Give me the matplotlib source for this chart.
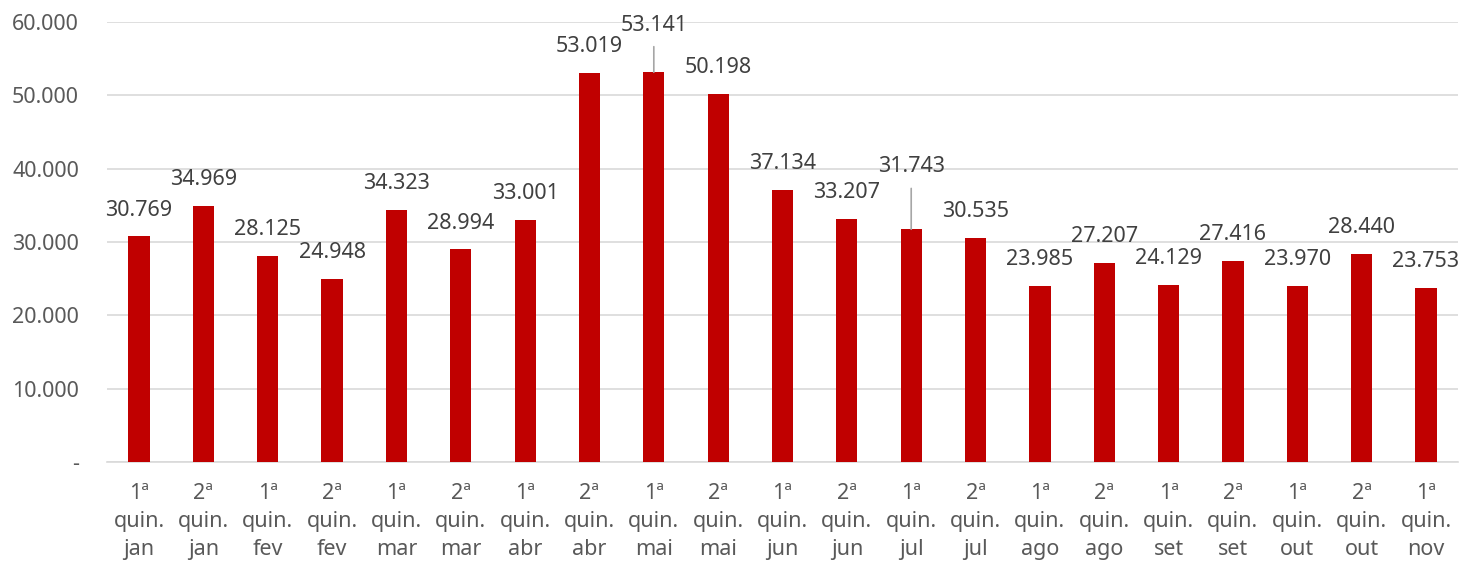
import matplotlib.pyplot as plt
from matplotlib.ticker import FuncFormatter

plt.rcParams['font.family'] = ['Noto Sans', 'DejaVu Sans']

quinzenas = ["1ª", "2ª"] * 11
meses = ["jan", "jan", "fev", "fev", "mar", "mar", "abr", "abr", "mai", "mai",
         "jun", "jun", "jul", "jul", "ago", "ago", "set", "set", "out", "out", "nov"]
categorias = [f"{q}\nquin.\n{m}" for q, m in zip(quinzenas, meses)]
valores = [30769, 34969, 28125, 24948, 34323, 28994, 33001, 53019, 53141, 50198,
           37134, 33207, 31743, 30535, 23985, 27207, 24129, 27416, 23970, 28440, 23753]
# labels moved up with a leader line
destacados = {8: 34, 12: 45}

cinza = '#595959'
fig = plt.figure(figsize=(14.64, 5.63), dpi=100)
ax = fig.add_subplot()
fig.subplots_adjust(left=0.073, right=0.996, top=0.961, bottom=0.179)

x = range(len(valores))
ax.bar(x, valores, width=0.33, color='#C00000', zorder=3)

fmt = lambda v: f"{int(v):,}".replace(",", ".")
for i, v in enumerate(valores):
    if i in destacados:
        ax.annotate(fmt(v), (i, v), xytext=(0, destacados[i]), textcoords='offset points',
                    ha='center', va='center', fontsize=15.5, color='#404040',
                    arrowprops=dict(arrowstyle='-', color='#A6A6A6', lw=1.2,
                                    shrinkA=6, shrinkB=0))
    else:
        ax.annotate(fmt(v), (i, v), xytext=(0, 19), textcoords='offset points',
                    ha='center', va='center', fontsize=15.5, color='#404040')

ax.set_ylim(0, 60000)
ax.set_xlim(-0.5, len(valores) - 0.5)
ax.set_yticks(range(0, 60001, 10000))
ax.yaxis.set_major_formatter(FuncFormatter(lambda v, p: "-" if v == 0 else fmt(v)))
ax.set_xticks(list(x))
ax.set_xticklabels(categorias, linespacing=1.44)
ax.tick_params(axis='both', length=0, labelsize=15.5, labelcolor=cinza)
ax.tick_params(axis='y', pad=20)
ax.tick_params(axis='x', pad=15)
ax.grid(axis='y', color='#D9D9D9', lw=1.2, zorder=0)
for s in ['top', 'right', 'left']:
    ax.spines[s].set_visible(False)
ax.spines['bottom'].set_color('#D9D9D9')
ax.spines['bottom'].set_linewidth(1.2)

fig.savefig('out.png', dpi=100)
